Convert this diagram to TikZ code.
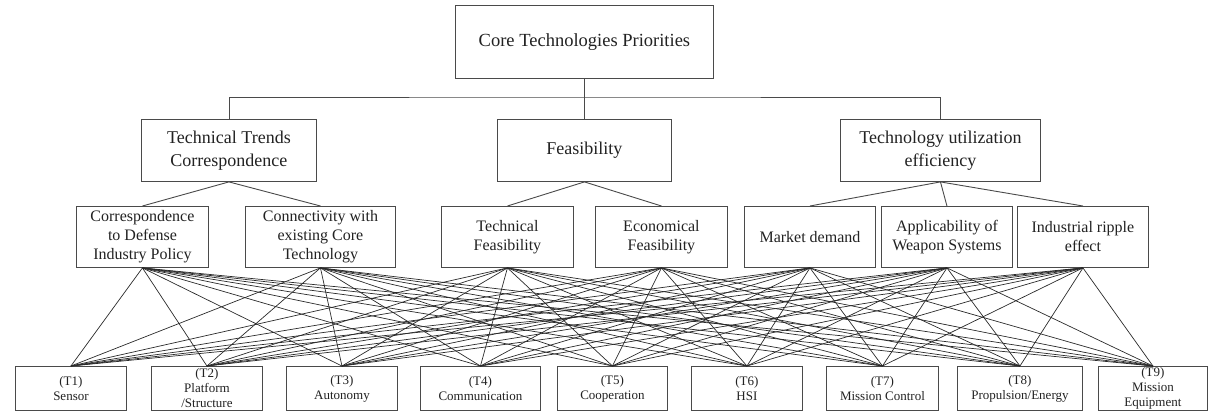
\documentclass[tikz,border=0pt]{standalone}
\usepackage{fontspec}
\setmainfont{Liberation Serif}
\usetikzlibrary{positioning,calc}
\definecolor{ink}{HTML}{222222}
\definecolor{frame}{HTML}{4A4A4A}
\definecolor{wire}{HTML}{2A2A2A}

\begin{document}
\begin{tikzpicture}[
 x=1pt,y=-1pt,text=ink,
 box/.style={draw=frame,fill=white,line width=.9pt,align=center,inner xsep=2pt,inner ysep=0pt,anchor=north west},
 goal/.style={box,font=\fontsize{18.5}{22}\selectfont,minimum width=258pt,minimum height=73pt},
 crit/.style={box,font=\fontsize{18}{22.5}\selectfont,minimum height=62pt},
 sub/.style={box,font=\fontsize{16}{19}\selectfont,minimum width=131pt,minimum height=61pt},
 alt/.style={box,font=\fontsize{13}{15}\selectfont,minimum height=44pt},
 tree/.style={draw=frame,line width=.9pt},
 wire/.style={draw=wire,line width=.7pt}
]
\useasboundingbox (0,0) rectangle (1208,416);

% goal
\node[goal] (root) at (455,5) {Core Technologies Priorities};

% criteria
\node[crit,minimum width=175pt] (ttc) at (141,119) {Technical Trends\\Correspondence};
\node[crit,minimum width=174pt] (feas) at (497,119) {Feasibility};
\node[crit,minimum width=200pt] (tue) at (840,119) {Technology utilization\\efficiency};

% sub-criteria
\node[sub,minimum width=132pt] (cdip) at (76,206) {Correspondence\\to Defense\\Industry Policy};
\node[sub,minimum width=150pt] (cct) at (245,206) {Connectivity with\\existing Core\\Technology};
\node[sub,minimum width=132pt] (tf) at (441,206) {Technical\\Feasibility};
\node[sub,minimum width=132pt] (ef) at (595,206) {Economical\\Feasibility};
\node[sub] (md) at (744,206) {Market demand};
\node[sub] (aws) at (881,206) {Applicability of\\Weapon Systems};
\node[sub] (ire) at (1017,206) {Industrial ripple\\effect};

% alternatives
\node[alt,minimum width=111pt] (t1) at (15,366) {(T1)\\Sensor};
\node[alt,minimum width=111pt] (t2) at (151,366) {(T2)\\Platform\\/Structure};
\node[alt,minimum width=111pt] (t3) at (286,366) {(T3)\\Autonomy};
\node[alt,minimum width=120pt] (t4) at (420,366) {(T4)\\Communication};
\node[alt,minimum width=110pt] (t5) at (557,366) {(T5)\\Cooperation};
\node[alt,minimum width=111pt] (t6) at (691,366) {(T6)\\HSI};
\node[alt,minimum width=112pt] (t7) at (826,366) {(T7)\\Mission Control};
\node[alt,minimum width=125pt] (t8) at (957,366) {(T8)\\Propulsion/Energy};
\node[alt,minimum width=109pt] (t9) at (1098,366) {(T9)\\Mission\\Equipment};

% hierarchy
\coordinate (bar) at (585,97);
\draw[tree] (ttc.north) |- (bar) -| (tue.north);
\draw[tree] (root.south) -- (feas.north);
\draw[tree] (ttc.south) -- (cdip.north);
\draw[tree] (ttc.south) -- (cct.north);
\draw[tree] (feas.south) -- (tf.north);
\draw[tree] (feas.south) -- (ef.north);
\draw[tree] (tue.south) -- (md.north);
\draw[tree] (tue.south) -- (aws.north);
\draw[tree] (tue.south) -- (ire.north);

% every sub-criterion to every alternative
\foreach \c in {cdip,cct,tf,ef,md,aws,ire}
  \foreach \k in {1,...,9}
    \draw[wire] (\c.south) -- (t\k.north);
\end{tikzpicture}
\end{document}
